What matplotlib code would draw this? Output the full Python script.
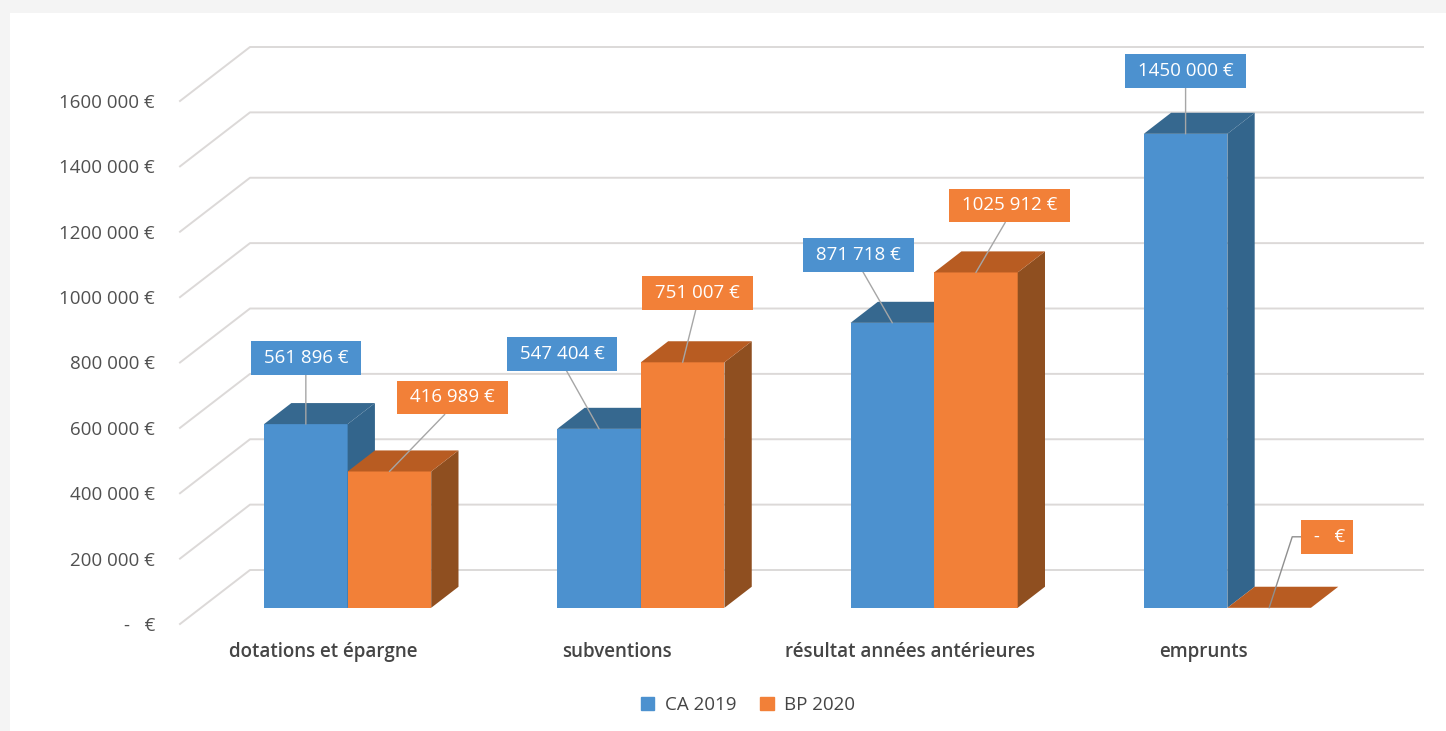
import matplotlib
matplotlib.use("Agg")
import numpy as np
import matplotlib.pyplot as plt
from matplotlib.patches import Rectangle, Patch

plt.rcParams['font.family'] = ['Open Sans', 'DejaVu Sans']

categories = ['dotations et épargne', 'subventions', 'résultat années antérieures', 'emprunts']
ca_2019 = [561896, 547404, 871718, 1450000]
bp_2020 = [416989, 751007, 1025912, 0]
ca_labels = ['561 896 €', '547 404 €', '871 718 €', '1450 000 €']
bp_labels = ['416 989 €', '751 007 €', '1025 912 €', '-   €']
y_ticks = [0, 200000, 400000, 600000, 800000, 1000000, 1200000, 1400000, 1600000]
y_tick_labels = ['-   €', '200 000 €', '400 000 €', '600 000 €', '800 000 €',
                 '1000 000 €', '1200 000 €', '1400 000 €', '1600 000 €']

# fake 3d: shift of the back wall, in data units
depth_x = 0.2387
depth_y = 165200
bar_d0 = 0.30
bar_d1 = 0.69
gap = 0.215
bar_w = 0.285

W, H = 1446, 731
fig = plt.figure(figsize=(W / 100, H / 100), dpi=100, facecolor='white')

# grey page edge around the chart card
fig.patches.append(Rectangle((0, 1 - 13 / H), 1, 13 / H, transform=fig.transFigure, color='#f4f4f4', lw=0))
fig.patches.append(Rectangle((0, 0), 10 / W, 1, transform=fig.transFigure, color='#f4f4f4', lw=0))

ax = fig.add_axes([180 / W, (H - 624) / H, 1243 / W, 577 / H])
ax.set_xlim(0, 4 + depth_x)
ax.set_ylim(0, 1600000 + depth_y)
ax.patch.set_alpha(0)
for s in ax.spines.values():
    s.set_visible(False)

# walls
for v in y_ticks:
    ax.plot([0, depth_x, 4 + depth_x], [v, v + depth_y, v + depth_y],
            color='#dcd9d8', lw=1.4, zorder=1, clip_on=False)


def draw_bar(x, value, front, top, side):
    y0 = bar_d0 * depth_y
    sx = (bar_d1 - bar_d0) * depth_x
    sy = (bar_d1 - bar_d0) * depth_y
    xf = x + bar_d0 * depth_x
    if value > 0:
        ax.bar(xf, value, bar_w, bottom=y0, align='edge', color=front, zorder=2)
        ax.fill([xf + bar_w, xf + bar_w + sx, xf + bar_w + sx, xf + bar_w],
                [y0, y0 + sy, y0 + value + sy, y0 + value], color=side, lw=0, zorder=2)
    ax.fill([xf, xf + sx, xf + bar_w + sx, xf + bar_w],
            [y0 + value, y0 + value + sy, y0 + value + sy, y0 + value], color=top, lw=0, zorder=2)
    return xf + bar_w / 2, y0 + value


# pixel offsets of the data labels from the top of their bar
ca_offsets = [(0, 66), (-37, 75), (-34, 68), (0, 63)]
bp_offsets = [(63, 74), (15, 69), (34, 67), (58, 71)]


def draw_label(xy, text, off, color, empty=False):
    if empty:
        # the empty bar gets an elbow leader and a narrower box
        text = ' ' + text
        arrow = dict(arrowstyle='-', color='#8f8f8f', lw=1, shrinkA=0, shrinkB=0, relpos=(0, 0.5),
                     connectionstyle='angle,angleA=0,angleB=72,rad=0')
    else:
        text = ' ' + text + ' '
        arrow = dict(arrowstyle='-', color='#a6a6a6', lw=1, shrinkA=0, shrinkB=0, relpos=(0.5, 0))
    ax.annotate(text, xy=xy, xytext=off, textcoords='offset pixels', ha='center', va='center',
                color='white', fontsize=13.5, zorder=5,
                bbox=dict(boxstyle='square,pad=0.42', fc=color, ec='none'), arrowprops=arrow)


for i in range(4):
    x0 = i + gap
    a = draw_bar(x0, ca_2019[i], '#4c91cf', '#36688f', '#33658c')
    b = draw_bar(x0 + bar_w, bp_2020[i], '#f28038', '#b85c22', '#8f4f20')
    draw_label(a, ca_labels[i], ca_offsets[i], '#4c91cf')
    draw_label(b, bp_labels[i], bp_offsets[i], '#f28038', empty=bp_2020[i] == 0)

ax.set_yticks(y_ticks)
ax.set_yticklabels(y_tick_labels, fontsize=13.5, color='#505050')
ax.set_xticks(np.arange(4) + 0.49)
ax.set_xticklabels(categories, fontsize=13.5, color='#454545', fontweight='semibold')
ax.tick_params(axis='y', length=0, pad=18)
ax.tick_params(axis='x', length=0, pad=13)

handles = [Patch(color='#4c91cf', label='CA 2019'), Patch(color='#f28038', label='BP 2020')]
fig.legend(handles=handles, loc='center', bbox_to_anchor=(748 / W, 1 - 705 / H), ncol=2, frameon=False,
           fontsize=13.5, labelcolor='#454545', handlelength=0.7, handleheight=0.7,
           handletextpad=0.55, columnspacing=1.3)

fig.savefig('out.png', dpi=100)
